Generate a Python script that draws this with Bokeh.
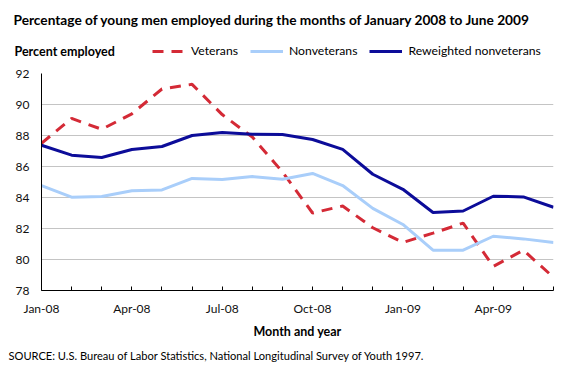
from bokeh.plotting import figure
from bokeh.models import Range1d, FixedTicker, Label, Legend, LegendItem
from bokeh.embed import file_html
from bokeh.resources import INLINE

months = ["Jan-08", "Feb-08", "Mar-08", "Apr-08", "May-08", "Jun-08", "Jul-08", "Aug-08", "Sep-08",
          "Oct-08", "Nov-08", "Dec-08", "Jan-09", "Feb-09", "Mar-09", "Apr-09", "May-09", "Jun-09"]
tick_labels = ["Jan-08", "", "", "Apr-08", "", "", "Jul-08", "", "", "Oct-08", "", "",
               "Jan-09", "", "", "Apr-09", "", ""]
veterans = [87.5, 89.1, 88.4, 89.4, 91.0, 91.3, 89.35, 87.9, 85.65, 83.0, 83.45, 82.05,
            81.1, 81.7, 82.35, 79.55, 80.6, 78.85]
nonveterans = [84.77, 84.02, 84.06, 84.43, 84.49, 85.23, 85.16, 85.35, 85.18, 85.55, 84.77, 83.3,
               82.26, 80.6, 80.6, 81.5, 81.33, 81.1]
reweighted = [87.37, 86.73, 86.58, 87.1, 87.29, 88.0, 88.2, 88.08, 88.06, 87.74, 87.1, 85.5,
              84.53, 83.03, 83.13, 84.08, 84.04, 83.37]
y_ticks = [78, 80, 82, 84, 86, 88, 90, 92]
series_names = ["Veterans", "Nonveterans", "Reweighted nonveterans"]

FONT = "Lato"
RED, LIGHT, DARK = "#d42a36", "#a9cefa", "#0c0c99"
DASH = "11 8"
x = list(range(len(months)))

W = 580
HEAD_H, MAIN_H, FOOT_H = 65, 280, 32


def blank(h):
    f = figure(width=W, height=h, output_backend="svg", toolbar_location=None,
               x_range=Range1d(0, W), y_range=Range1d(h, 0),
               x_axis_type=None, y_axis_type=None,
               min_border_left=0, min_border_right=0, min_border_top=0, min_border_bottom=0)
    f.outline_line_color = None
    f.xgrid.visible = False
    f.ygrid.visible = False
    return f


# ---------- header: title + legend ----------
head = blank(HEAD_H)
head.add_layout(Label(x=13, y=19,
                      text="Percentage of young men employed during the months of January 2008  to June 2009",
                      text_font=FONT, text_font_style="bold", text_font_size="13.7px",
                      text_baseline="middle", text_color="black"))
head.add_layout(Label(x=14, y=51, text="Percent employed", text_font=FONT, text_font_style="bold",
                      text_font_size="12.5px", text_baseline="middle", text_color="black"))

# legend keys (hidden copies of the series, only used for the legend swatches)
h_red = head.line(x, veterans, line_color=RED, line_width=3, line_dash=DASH, visible=False)
h_light = head.line(x, nonveterans, line_color=LIGHT, line_width=3, visible=False)
h_dark = head.line(x, reweighted, line_color=DARK, line_width=3, visible=False)

legend = Legend(items=[LegendItem(label=series_names[0], renderers=[h_red]),
                       LegendItem(label=series_names[1], renderers=[h_light]),
                       LegendItem(label=series_names[2], renderers=[h_dark])],
                location=(152, 7), orientation="horizontal",
                glyph_width=33, glyph_height=14, label_height=14, label_standoff=6,
                spacing=12, padding=0, margin=0,
                label_text_font=FONT, label_text_font_size="12.2px",
                label_text_color="black",
                inactive_fill_alpha=0, click_policy="none",
                background_fill_alpha=0, border_line_color=None)
head.add_layout(legend)

# ---------- main chart ----------
p = figure(width=W, height=MAIN_H, output_backend="svg", toolbar_location=None,
           x_range=Range1d(0, len(months) - 1), y_range=Range1d(78, 92),
           min_border_left=41, min_border_right=27, min_border_top=8, min_border_bottom=55)
p.outline_line_color = None

p.line(x, veterans, line_color=RED, line_width=3, line_dash=DASH)
p.line(x, nonveterans, line_color=LIGHT, line_width=3)
p.line(x, reweighted, line_color=DARK, line_width=3)

p.xaxis.ticker = FixedTicker(ticks=x)
p.xaxis.major_label_overrides = {i: t for i, t in zip(x, tick_labels)}
p.xaxis.major_tick_in = 4
p.xaxis.major_tick_out = 0
p.xaxis.minor_tick_line_color = None
p.xaxis.axis_line_color = "black"
p.xaxis.major_tick_line_color = "black"
p.xaxis.major_label_text_font = FONT
p.xaxis.major_label_text_font_size = "12px"
p.xaxis.major_label_text_color = "#111111"
p.xaxis.major_label_standoff = 10
p.xaxis.axis_label = "Month and year"
p.xaxis.axis_label_text_font = FONT
p.xaxis.axis_label_text_font_style = "bold"
p.xaxis.axis_label_text_font_size = "12.5px"
p.xaxis.axis_label_text_color = "black"
p.xaxis.axis_label_standoff = 5

p.yaxis.ticker = FixedTicker(ticks=y_ticks)
p.yaxis.major_tick_in = 0
p.yaxis.major_tick_out = 0
p.yaxis.minor_tick_line_color = None
p.yaxis.axis_line_color = "black"
p.yaxis.major_label_text_font = FONT
p.yaxis.major_label_text_font_size = "12px"
p.yaxis.major_label_text_color = "#111111"
p.yaxis.major_label_standoff = 12

p.xgrid.grid_line_color = None
p.ygrid.ticker = FixedTicker(ticks=y_ticks)
p.ygrid.grid_line_color = "#c4c4c4"
p.ygrid.grid_line_width = 1

# ---------- footer: source ----------
foot = blank(FOOT_H)
foot.add_layout(Label(x=8, y=10,
                      text="SOURCE:  U.S. Bureau of Labor Statistics, National Longitudinal Survey of Youth 1997.",
                      text_font=FONT, text_font_size="11.1px", text_baseline="middle",
                      text_color="black"))

open("out.html", "w").write(file_html([head, p, foot], INLINE))
